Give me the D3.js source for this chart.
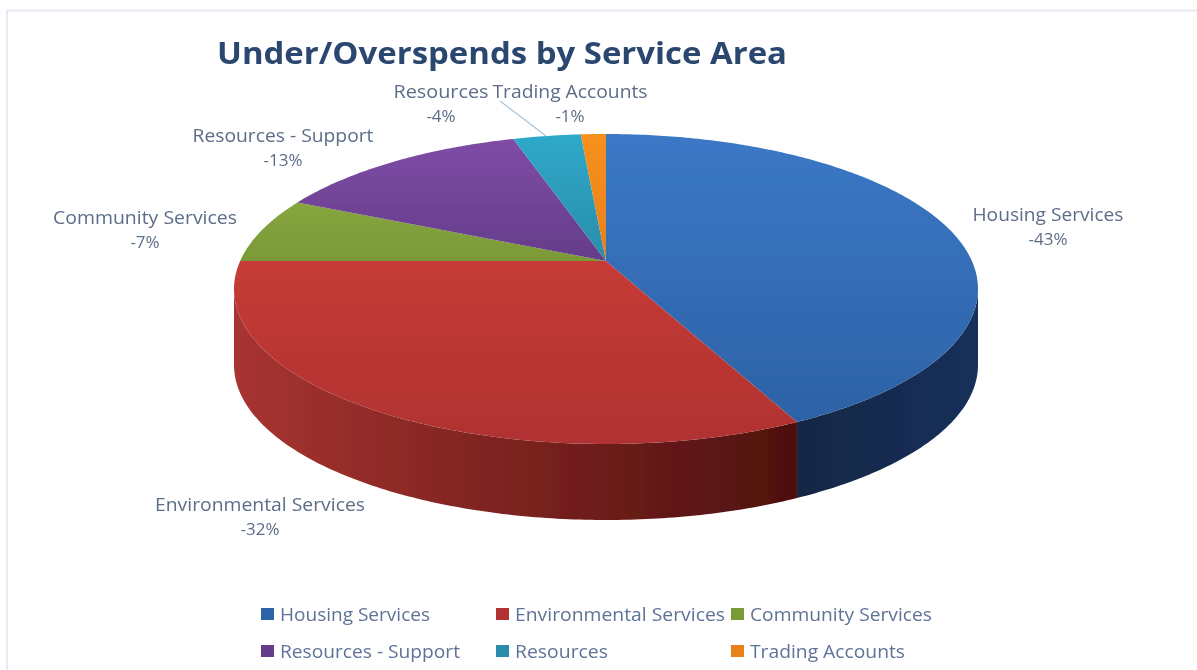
<!DOCTYPE html>
<html>
<head>
<meta charset="utf-8">
<script src="https://cdn.jsdelivr.net/npm/d3@7"></script>
<style>
  html, body { margin: 0; padding: 0; background: #fff; overflow: hidden; }
  text { font-family: "Open Sans", sans-serif; }
</style>
</head>
<body>
<svg id="chart" width="1197" height="670"></svg>
<script>
// values
const categories = ["Housing Services", "Environmental Services", "Community Services", "Resources - Support", "Resources", "Trading Accounts"];
const values = [42.8, 32.2, 6.9, 13.3, 3.5, 1.3];
const labels = ["-43%", "-32%", "-7%", "-13%", "-4%", "-1%"];
const topLight = ["#3b78c6", "#c63b37", "#86a53f", "#7f4ca6", "#2fa9c9", "#f8901f"];
const topDark = ["#2d62a6", "#b03230", "#7a9a38", "#653c8a", "#2a8cab", "#e8801c"];
const wallLight = ["#122746", "#a83431", "#6b8530", "#553078", "#23839c", "#c86e14"];
const wallDark = ["#16305a", "#4e100e", "#4d6022", "#3c2056", "#185d70", "#8e4e0e"];

const titleText = "Under/Overspends by Service Area";

// pie geometry (perspective: the apex sits above the centre of the ellipse)
const cx = 606, cy = 289, rx = 372, ry = 155, apexLift = 28, depth = 76;
const p = -apexLift / ry;
const k = Math.sqrt(1 - p * p);

// label placement, same order as categories
const labelX = [1048, 260, 145, 283, 441, 570];
const labelY = [221, 511, 224, 142, 98, 98];
const labelW = [151, 210, 184, 181, 95, 155];

const legendCols = [261, 496, 731];
const legendRows = [614, 651];
const legendW = [150, 210, 182, 180, 93, 155];

const svg = d3.select("#chart");
const defs = svg.append("defs");

defs.append("filter").attr("id", "soft")
  .append("feGaussianBlur").attr("stdDeviation", 0.7);

categories.forEach((c, i) => {
  const g1 = defs.append("linearGradient").attr("id", "top" + i)
    .attr("x1", 0).attr("y1", 0).attr("x2", 0).attr("y2", 1);
  g1.append("stop").attr("offset", 0).attr("stop-color", topLight[i]);
  g1.append("stop").attr("offset", 1).attr("stop-color", topDark[i]);
  const g2 = defs.append("linearGradient").attr("id", "wall" + i)
    .attr("x1", 0).attr("y1", 0).attr("x2", 1).attr("y2", 0);
  g2.append("stop").attr("offset", 0).attr("stop-color", wallLight[i]);
  g2.append("stop").attr("offset", 1).attr("stop-color", wallDark[i]);
});

// frame of the pasted picture
svg.append("path")
  .attr("d", "M7,670V10.5H1197")
  .attr("fill", "none")
  .attr("stroke", "#e6eaf3")
  .attr("stroke-width", 2);

const root = svg.append("g").attr("filter", "url(#soft)");

// angle on the flat pie -> point on the screen
function project(a) {
  const u = Math.sin(a), v = -Math.cos(a);
  const d = 1 + p * v;
  return [cx + rx * k * u / d, cy + (ry * v - apexLift) / d];
}
const apex = [cx, cy - apexLift];

const arcs = d3.pie().sort(null).value(d => d)(values);
const line = d3.line();

function arcPoints(d) {
  const n = Math.max(4, Math.ceil((d.endAngle - d.startAngle) * 80));
  return d3.range(n + 1).map(j => d.startAngle + (d.endAngle - d.startAngle) * j / n);
}

// walls first, only the part facing the viewer
root.append("g").selectAll("path")
  .data(arcs)
  .join("path")
  .attr("d", d => {
    const pts = arcPoints(d).map(project).filter(q => q[1] >= cy - 0.5);
    if (pts.length < 2) return null;
    return line(pts.concat(pts.slice().reverse().map(q => [q[0], q[1] + depth]))) + "Z";
  })
  .attr("fill", (d, i) => "url(#wall" + i + ")");

// top face
root.append("g").selectAll("path")
  .data(arcs)
  .join("path")
  .attr("d", d => line([apex].concat(arcPoints(d).map(project))) + "Z")
  .attr("fill", (d, i) => "url(#top" + i + ")");

// leader line for Resources
root.append("path")
  .attr("d", line([[500, 101], [546, 136]]))
  .attr("stroke", "#a9c4d6")
  .attr("stroke-width", 1.2)
  .attr("fill", "none");

// title
root.append("text")
  .attr("x", 217).attr("y", 64)
  .attr("font-size", 30.5)
  .attr("font-weight", 700)
  .attr("fill", "#2c4770")
  .attr("textLength", 570)
  .attr("lengthAdjust", "spacingAndGlyphs")
  .text(titleText);

// data labels
const lab = root.append("g").selectAll("g")
  .data(categories)
  .join("g")
  .attr("transform", (d, i) => `translate(${labelX[i]},${labelY[i]})`)
  .attr("text-anchor", "middle")
  .attr("fill", "#5d6d88")
  .attr("font-size", 18);
lab.append("text")
  .attr("textLength", (d, i) => labelW[i])
  .attr("lengthAdjust", "spacingAndGlyphs")
  .text(d => d);
lab.append("text").attr("y", 24).attr("font-size", 17).text((d, i) => labels[i]);

// legend, three across
const leg = root.append("g").selectAll("g")
  .data(categories)
  .join("g")
  .attr("transform", (d, i) => `translate(${legendCols[i % 3]},${legendRows[Math.floor(i / 3)]})`);
leg.append("rect")
  .attr("x", 0).attr("y", -6)
  .attr("width", 13).attr("height", 12)
  .attr("fill", (d, i) => topDark[i]);
leg.append("text")
  .attr("x", 19).attr("y", 7)
  .attr("font-size", 18)
  .attr("fill", "#5f7397")
  .attr("textLength", (d, i) => legendW[i])
  .attr("lengthAdjust", "spacingAndGlyphs")
  .text(d => d);
</script>
</body>
</html>
